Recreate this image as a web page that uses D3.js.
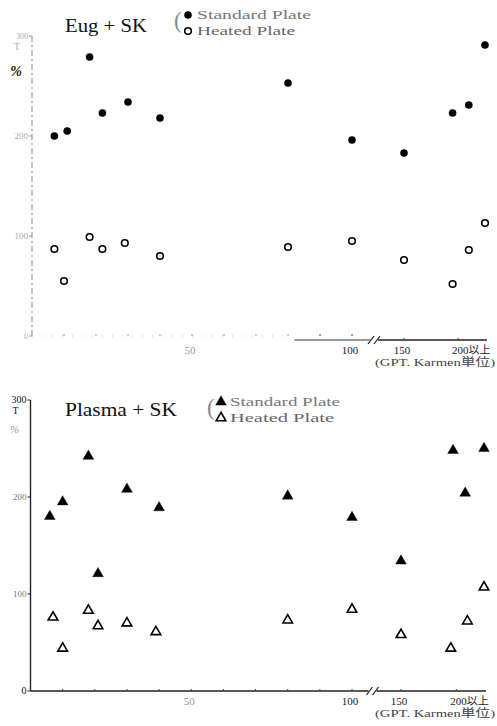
<!DOCTYPE html>
<html><head><meta charset="utf-8">
<script src="https://cdn.jsdelivr.net/npm/d3@7"></script>
<style>body{margin:0;background:#fff}</style>
</head><body>
<svg id="c" width="497" height="726"></svg>
<script>
// T (%) against GPT (Karmen units) — Eug+SK and Plasma+SK, standard vs heated plate
const eugStdGpt  = [7, 11, 18, 22, 30, 40, 80, 100, 150, 195, 210, 225];
const eugStdT    = [200, 205, 279, 223, 234, 218, 253, 196, 183, 223, 231, 291];
const eugHeatGpt = [7, 10, 18, 22, 29, 40, 80, 100, 150, 195, 210, 225];
const eugHeatT   = [87, 55, 99, 87, 93, 80, 89, 95, 76, 52, 86, 113];

const plaStdGpt  = [6, 10, 18, 21, 30, 40, 80, 100, 150, 197, 208, 225];
const plaStdT    = [180, 195, 242, 121, 208, 189, 201, 179, 134, 248, 204, 250];
const plaHeatGpt = [7, 10, 18, 21, 30, 39, 80, 100, 150, 195, 210, 225];
const plaHeatT   = [76, 44, 83, 67, 70, 61, 73, 84, 58, 44, 72, 107];

const yTickValues = [0, 100, 200, 300];
const xTickValues = [50, 100, 150, 200];
const xTickLabels = ["50", "100", "150", "200以上"];
const minorTicks  = [10, 20, 30, 40, 50, 60, 70, 80, 90, 100, 150, 200];
const unitLabel = "(GPT. Karmen単位)";
const legendLabels = ["Standard Plate", "Heated Plate"];

const svg = d3.select("#c");
const SERIF = "'Liberation Serif','DejaVu Serif',serif";
const CJK = "'Liberation Serif','Noto Sans CJK JP',serif";

function panel(opt) {
  const g = svg.append("g");
  // broken axis: linear up to 100, compressed after the break
  const x = d3.scaleLinear().domain([0, 100, 150, 225]).range(opt.xr);
  const y = d3.scaleLinear().domain([0, 300]).range(opt.yr);
  const x0 = x(0), yb = y(0);

  // y axis
  g.append("line").attr("x1", x0).attr("x2", x0).attr("y1", y(300)).attr("y2", yb)
    .attr("stroke", opt.axisColor).attr("stroke-width", opt.axisW)
    .attr("stroke-dasharray", opt.dashed ? "6,3,2,3" : null);
  yTickValues.forEach(v => {
    g.append("line").attr("x1", x0 - 3).attr("x2", x0).attr("y1", y(v)).attr("y2", y(v))
      .attr("stroke", opt.axisColor).attr("stroke-width", 1);
    const col = v === 0 ? opt.zeroColor : (v === 300 ? opt.topColor : opt.tickColor);
    g.append("text").attr("x", x0 - 4).attr("y", y(v) + 3).attr("text-anchor", "end")
      .attr("font-family", SERIF).attr("font-size", v === 0 || v === 300 ? opt.endSize : 9)
      .attr("fill", col).text(v);
  });
  g.append("text").attr("x", x0 - 15).attr("y", y(300) + 14).attr("text-anchor", "middle")
    .attr("font-family", SERIF).attr("font-size", 10).attr("fill", opt.topColor).text("T");
  g.append("text").attr("x", x0 - 16).attr("y", y(300) + opt.pctDy).attr("text-anchor", "middle")
    .attr("font-family", SERIF).attr("font-size", opt.pctSize).attr("font-style", "italic")
    .attr("font-weight", opt.pctBold ? "bold" : "normal")
    .attr("fill", opt.pctColor).text("%");

  // x axis with a break between 100 and 150
  const xb = (x(100) + x(150)) / 2 - 4;
  const ya = yb;
  if (opt.dashed) {
    g.append("line").attr("x1", x0).attr("x2", x(80)).attr("y1", ya).attr("y2", ya)
      .attr("stroke", "#bbb").attr("stroke-width", 1).attr("stroke-dasharray", "1,9");
    g.append("line").attr("x1", x(82)).attr("x2", xb - 4).attr("y1", ya + 4).attr("y2", ya + 4)
      .attr("stroke", "#333").attr("stroke-width", 1.2);
  } else {
    g.append("line").attr("x1", x0).attr("x2", xb - 4).attr("y1", ya).attr("y2", ya)
      .attr("stroke", "#222").attr("stroke-width", 1.4);
  }
  const yr = opt.dashed ? ya + 4 : ya;
  g.append("line").attr("x1", xb + 4).attr("x2", x(225) + 2).attr("y1", yr).attr("y2", yr)
    .attr("stroke", "#222").attr("stroke-width", 1.3);
  [-3, 3].forEach(d => {
    g.append("line").attr("x1", xb + d - 3).attr("x2", xb + d + 3)
      .attr("y1", yr + 4).attr("y2", yr - 4).attr("stroke", "#222").attr("stroke-width", 1.2);
  });
  minorTicks.forEach(v => {
    const yy = v > 100 ? yr : ya;
    g.append("line").attr("x1", x(v)).attr("x2", x(v)).attr("y1", yy - 2).attr("y2", yy)
      .attr("stroke", opt.dashed && v < 90 ? "#999" : "#444").attr("stroke-width", 1);
  });
  xTickValues.forEach((v, i) => {
    const t = g.append("text").attr("y", yr + 14)
      .attr("font-family", CJK).attr("font-size", 11)
      .attr("fill", v === 50 ? "#999" : "#222").text(xTickLabels[i]);
    if (v === 200) t.attr("x", x(v) - 6).attr("text-anchor", "start");
    else t.attr("x", x(v) - 2).attr("text-anchor", "middle");
  });
  g.append("text").attr("x", 495).attr("y", yr + 26).attr("text-anchor", "end")
    .attr("font-family", CJK).attr("font-size", 11).attr("fill", "#444")
    .attr("textLength", 120).attr("lengthAdjust", "spacingAndGlyphs").text(unitLabel);

  // title and legend
  g.append("text").attr("x", opt.title[0]).attr("y", opt.title[1])
    .attr("font-family", SERIF).attr("font-size", 18).attr("fill", "#111")
    .attr("textLength", opt.title[2]).attr("lengthAdjust", "spacingAndGlyphs").text(opt.titleText);
  const lx = opt.legend[0], ly = opt.legend[1];
  g.append("text").attr("x", lx - 14).attr("y", ly + 13).attr("font-family", SERIF)
    .attr("font-size", 23).attr("fill", "#888").text("(");
  legendLabels.forEach((lab, i) => {
    const cy = ly + i * 16;
    opt.marker(g, lx, cy, i === 0);
    g.append("text").attr("x", lx + 9).attr("y", cy + 4).attr("font-family", SERIF)
      .attr("font-size", 12).attr("fill", i === 0 ? "#777" : "#666")
      .attr("textLength", opt.legend[2 + i]).attr("lengthAdjust", "spacingAndGlyphs").text(lab);
  });

  // data marks
  const std = opt.stdX.map((d, i) => [d, opt.stdY[i]]);
  const heat = opt.heatX.map((d, i) => [d, opt.heatY[i]]);
  std.forEach(d => opt.marker(g, x(d[0]), y(d[1]), true));
  heat.forEach(d => opt.marker(g, x(d[0]), y(d[1]), false));
}

function circleMark(g, cx, cy, filled) {
  g.append("circle").attr("cx", cx).attr("cy", cy).attr("r", filled ? 3.8 : 3.3)
    .attr("fill", filled ? "#000" : "#fff").attr("stroke", "#000")
    .attr("stroke-width", filled ? 0 : 1.6);
}
function triMark(g, cx, cy, filled) {
  const tri = d3.symbol().type(d3.symbolTriangle).size(filled ? 50 : 40);
  g.append("path").attr("d", tri()).attr("transform", `translate(${cx},${cy})`)
    .attr("fill", filled ? "#000" : "#fff").attr("stroke", "#000")
    .attr("stroke-width", filled ? 0.4 : 1.6).attr("stroke-linejoin", "miter");
}

panel({
  xr: [32, 352, 404, 485], yr: [336, 36],
  dashed: true, axisColor: "#999", axisW: 1.2, tickColor: "#aaa", zeroColor: "#aaa",
  topColor: "#aaa", endSize: 8,
  pctDy: 40, pctSize: 14, pctBold: true, pctColor: "#111",
  title: [65, 32, 82], titleText: "Eug + SK",
  legend: [188, 15, 114, 98],
  marker: circleMark,
  stdX: eugStdGpt, stdY: eugStdT, heatX: eugHeatGpt, heatY: eugHeatT
});

panel({
  xr: [30.5, 352, 401, 484], yr: [691, 400],
  dashed: false, axisColor: "#222", axisW: 1.4, tickColor: "#777", zeroColor: "#111",
  topColor: "#111", endSize: 10,
  pctDy: 33, pctSize: 11, pctBold: false, pctColor: "#999",
  title: [65, 416, 112], titleText: "Plasma + SK",
  legend: [221, 402, 110, 104],
  marker: triMark,
  stdX: plaStdGpt, stdY: plaStdT, heatX: plaHeatGpt, heatY: plaHeatT
});
</script>
</body></html>
